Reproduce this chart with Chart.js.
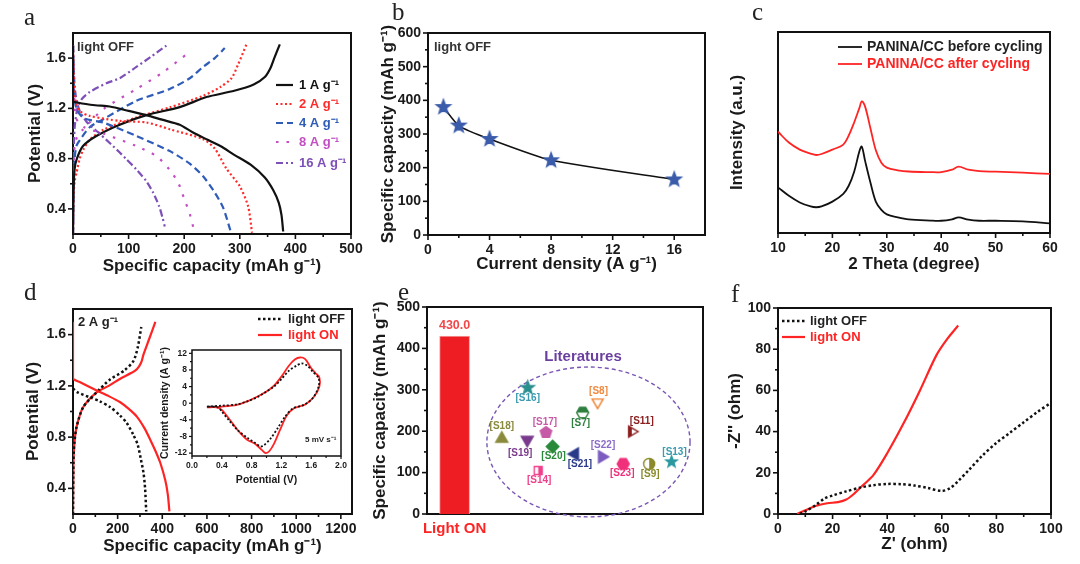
<!DOCTYPE html>
<html>
<head>
<meta charset="utf-8">
<script src="https://cdn.jsdelivr.net/npm/chart.js@4.4.1/dist/chart.umd.min.js"></script>
<style>
  html, body { margin: 0; padding: 0; background: #fff; }
  #wrap { position: relative; width: 1080px; height: 564px; overflow: hidden; }
  #wrap canvas { position: absolute; left: 0; top: 0; width: 1080px; height: 564px; }
  .tag { position: absolute; font-family: 'Liberation Serif', 'DejaVu Serif', serif; font-size: 25px; line-height: 1; color: #222; }
</style>
</head>
<body>
<div id="wrap">
  <canvas id="ca" width="1080" height="564"></canvas>
  <canvas id="cb" width="1080" height="564"></canvas>
  <canvas id="cc" width="1080" height="564"></canvas>
  <canvas id="cd" width="1080" height="564"></canvas>
  <canvas id="cdi" width="1080" height="564"></canvas>
  <canvas id="ce" width="1080" height="564"></canvas>
  <canvas id="cf" width="1080" height="564"></canvas>
  <div class="tag" style="left:24px;top:4px">a</div>
  <div class="tag" style="left:392px;top:-1px">b</div>
  <div class="tag" style="left:752px;top:-1px">c</div>
  <div class="tag" style="left:24px;top:279px">d</div>
  <div class="tag" style="left:398px;top:279px">e</div>
  <div class="tag" style="left:731px;top:281px">f</div>
</div>
<script>
// ----------------------------
// DATA
// ----------------------------
// (a) galvanostatic curves, light OFF: [capacity mAh/g, potential V]
const rateLabels = ['1 A g⁻¹', '2 A g⁻¹', '4 A g⁻¹', '8 A g⁻¹', '16 A g⁻¹'];
const a1Dis = [[0,1.70],[0,1.26],[10,1.245],[40,1.225],[66,1.215],[100,1.18],[132,1.146],[160,1.11],[192,1.07],[215,1.01],[240,0.954],[265,0.9],[290,0.83],[320,0.75],[345,0.65],[360,0.55],[370,0.45],[375,0.35],[378,0.22]];
const a1Chg = [[0,0.2],[1,0.55],[3,0.72],[7,0.8],[18,0.9],[42,0.98],[84,1.07],[132,1.146],[192,1.21],[240,1.29],[290,1.34],[325,1.39],[345,1.45],[355,1.52],[362,1.6],[372,1.71]];
const a2Dis = [[0,1.7],[2,1.4],[5,1.25],[12,1.18],[30,1.14],[84,1.10],[132,1.088],[174,1.034],[234,0.955],[255,0.88],[276,0.72],[300,0.58],[315,0.42],[322,0.21]];
const a2Chg = [[0,0.2],[1,0.5],[3,0.62],[6.5,0.69],[12,0.8],[18.5,0.87],[30,0.95],[54.5,1.03],[114,1.128],[174,1.208],[234,1.3],[265,1.37],[285,1.44],[297,1.55],[312,1.71]];
const a4Dis = [[0,1.7],[2,1.35],[6,1.2],[20,1.12],[54,1.088],[114,0.98],[174,0.86],[210,0.76],[234,0.66],[255,0.53],[270,0.41],[283,0.23]];
const a4Chg = [[0,0.2],[1,0.6],[3,0.8],[6,0.9],[12.6,0.95],[30,1.05],[54.5,1.114],[114,1.26],[174,1.354],[210,1.44],[234,1.53],[255,1.6],[273,1.68]];
const a8Dis = [[0,1.7],[2,1.3],[6,1.12],[20,1.05],[54,1.0],[114,0.9],[150,0.82],[174,0.71],[190,0.6],[200,0.48],[210,0.36],[217,0.24]];
const a8Chg = [[0,0.2],[1,0.7],[3,0.9],[8,0.98],[18.5,1.034],[54.5,1.194],[114,1.354],[162,1.488],[207,1.64]];
const a16Dis = [[0,1.7],[2,1.45],[5,1.3],[12,1.18],[25,1.09],[50,0.99],[72,0.9],[95,0.8],[114,0.714],[132,0.62],[144,0.53],[155,0.42],[161,0.33],[165,0.26]];
const a16Chg = [[0,0.2],[1,0.8],[3,1.05],[8,1.2],[15,1.27],[30,1.33],[60,1.4],[84,1.44],[114,1.53],[140,1.61],[168,1.70]];
const aXTicks = [0, 100, 200, 300, 400, 500];
const aYTicks = [0.4, 0.8, 1.2, 1.6];

// (b) rate capability
const bCurrent = [1, 2, 4, 8, 16];
const bCapacity = [380, 325, 285, 222, 165];
const bXTicks = [0, 4, 8, 12, 16];
const bYTicks = [0, 100, 200, 300, 400, 500, 600];

// (c) XRD, intensity in arbitrary units
const cTheta = [10,12,14,16,17,18,20,22,23,24,25,25.4,26,27,28,29,30,32,34,38,40,42,43.2,45,47,50,55,60];
const cBefore = [22.7,18.5,15.2,13.2,12.8,13.2,15.6,19.5,23.5,30.5,41,43,36,25,15.5,11.5,9.3,7.8,6.8,6.2,6.1,6.8,7.8,6.6,6.1,6.1,5.8,4.8];
const cAfter = [50.4,45,41.5,39.5,38.8,39.3,41.5,44,48.5,55,62.5,65.5,63,52,41,35,32.5,31.2,30.6,30.3,30.3,31.5,33,31.5,30.8,30.5,30,29.4];
const cXTicks = [10, 20, 30, 40, 50, 60];
const cSeries = ['PANINA/CC before cycling', 'PANINA/CC after cycling'];

// (d) 2 A/g curves, light OFF vs ON
const dOffDis = [[0,1.18],[20,1.15],[76,1.11],[120,1.08],[166,1.035],[210,0.97],[241,0.91],[270,0.82],[290,0.74],[305,0.62],[316,0.52],[323,0.4],[328,0.22]];
const dOffChg = [[0,0.2],[2,0.6],[6,0.75],[16,0.88],[46,1.035],[106,1.15],[166,1.25],[230,1.32],[271,1.395],[290,1.5],[306,1.66]];
const dOnDis = [[0,1.7],[0,1.26],[30,1.23],[106,1.164],[160,1.12],[210,1.074],[250,1.02],[286,0.96],[320,0.87],[346,0.78],[370,0.69],[391,0.6],[414,0.46],[425,0.35],[432,0.22]];
const dOnChg = [[0,0.2],[2,0.6],[6,0.75],[16,0.88],[46,1.035],[106,1.15],[160,1.2],[210,1.254],[260,1.3],[286,1.33],[305,1.38],[316,1.446],[340,1.56],[369,1.70]];
const dXTicks = [0, 200, 400, 600, 800, 1000, 1200];
const dYTicks = [0.4, 0.8, 1.2, 1.6];
const dSeries = ['light OFF', 'light ON'];
// (d) inset CV at 5 mV/s: [potential V, current A/g]
const cvOff = [[0.2,-0.8],[0.4,-0.6],[0.6,-0.3],[0.75,0.5],[0.88,1.5],[1.0,2.8],[1.1,4.0],[1.2,5.8],[1.3,7.8],[1.4,9.0],[1.47,9.6],[1.55,9.0],[1.62,7.6],[1.7,6.0],[1.7,4.0],[1.62,1.2],[1.5,-0.4],[1.35,-1.3],[1.25,-3.2],[1.15,-6.0],[1.05,-8.6],[0.96,-10.2],[0.92,-10.4],[0.85,-9.6],[0.75,-8.4],[0.62,-6.6],[0.5,-4.2],[0.4,-2.0],[0.35,-1.0],[0.2,-0.8]];
const cvOn = [[0.2,-1.0],[0.4,-0.8],[0.6,-0.4],[0.75,0.5],[0.88,1.6],[1.0,2.8],[1.1,4.2],[1.2,6.4],[1.3,9.0],[1.38,10.5],[1.45,11.0],[1.52,10.6],[1.6,8.4],[1.66,7.2],[1.71,6.2],[1.71,4.0],[1.64,1.6],[1.52,-0.3],[1.37,-1.2],[1.27,-3.0],[1.18,-6.5],[1.1,-9.8],[1.04,-11.5],[0.99,-12.0],[0.94,-11.3],[0.85,-9.8],[0.74,-8.8],[0.62,-6.6],[0.5,-3.8],[0.4,-1.6],[0.33,-1.0],[0.2,-1.0]];
const cvXTicks = [0, 0.4, 0.8, 1.2, 1.6, 2.0];
const cvYTicks = [-12, -8, -4, 0, 4, 8, 12];

// (e) comparison with literature
const eBarCapacity = 430;
const eRefs = ['[S16]','[S8]','[S7]','[S11]','[S18]','[S17]','[S19]','[S20]','[S21]','[S22]','[S23]','[S9]','[S13]','[S14]'];
const eRefX = [3.65, 6.18, 5.64, 7.42, 2.71, 4.31, 3.63, 4.55, 5.36, 6.34, 7.11, 8.05, 8.86, 4.03];
const eRefY = [305, 270, 245, 199, 182, 197, 179, 163, 145, 138, 121, 121, 126, 105];
const eYTicks = [0, 100, 200, 300, 400, 500];
// literature cloud (data units): centre and half-axes
const eCloud = { x: 5.85, y: 174, rx: 3.68, ry: 181 };

// (f) Nyquist plots: [Z' ohm, -Z'' ohm]
const fOff = [[8,0],[10,1.2],[14,4.5],[17,7.5],[20,9],[25,11],[30,12.8],[35,14],[40,14.6],[45,14.5],[50,13.8],[55,12.6],[60,11.2],[63,12.5],[66,16],[70,21.5],[75,28.5],[80,34.5],[85,39.5],[90,44.5],[95,49.5],[100,54]];
const fOn = [[7,0],[10,1.8],[14,4],[18,5.2],[22,5.8],[25,7],[28,10],[31,13.8],[35,19],[40,29.5],[46,44],[52,60],[58,77],[62,85],[66,91.5]];
const fTicks = [0, 20, 40, 60, 80, 100];

// ----------------------------
// STYLE / SETUP
// ----------------------------
const FONT = "'Liberation Sans', Arial, Helvetica, sans-serif";
Chart.defaults.font.family = FONT;
Chart.defaults.color = '#1a1a1a';
Chart.defaults.animation = false;
Chart.defaults.events = [];
Chart.defaults.plugins.legend.display = false;
Chart.defaults.plugins.tooltip.enabled = false;

const RED = '#ff2424';
const rateColors = ['#111111', '#ff2a2a', '#2e5cb8', '#c34fc3', '#7d50b8'];
const rateDash = [[], [2, 2.5], [7, 4], [2.5, 8], [7, 3, 2, 3]];

// box + outward ticks (major on labels, minor halfway)
const framePlugin = {
  id: 'frame',
  beforeDatasetsDraw(chart, args, o) {
    const { ctx, chartArea: a } = chart;
    const lw = o.lw || 2, maj = o.major || 5, mnr = o.minor || 3;
    ctx.save();
    ctx.strokeStyle = '#111';
    ctx.lineWidth = lw;
    ctx.strokeRect(a.left, a.top, a.right - a.left, a.bottom - a.top);
    ctx.lineWidth = lw * 0.8;
    ['x', 'y'].forEach(id => {
      if ((o.skip || []).includes(id)) return;
      const s = chart.scales[id];
      const vals = s.ticks.map(t => t.value);
      if (vals.length < 2) return;
      const step = vals[1] - vals[0];
      const minors = [vals[0] - step / 2, ...vals.map(v => v + step / 2)]
        .filter(v => v > s.min && v < s.max);
      const mark = (v, len) => {
        const p = s.getPixelForValue(v);
        ctx.beginPath();
        if (id === 'x') { ctx.moveTo(p, a.bottom); ctx.lineTo(p, a.bottom + len); }
        else { ctx.moveTo(a.left, p); ctx.lineTo(a.left - len, p); }
        ctx.stroke();
      };
      vals.forEach(v => mark(v, maj));
      minors.forEach(v => mark(v, mnr));
    });
    ctx.restore();
  }
};

// free text (page coordinates)
const notesPlugin = {
  id: 'notes',
  afterDraw(chart, args, o) {
    const ctx = chart.ctx;
    (o.items || []).forEach(n => {
      ctx.save();
      ctx.font = n.font;
      ctx.fillStyle = n.color || '#222';
      ctx.textAlign = n.align || 'left';
      ctx.textBaseline = 'middle';
      ctx.fillText(n.text, n.x, n.y);
      ctx.restore();
    });
  }
};

// legend rows drawn with the dataset's own line style
const keyPlugin = {
  id: 'key',
  afterDraw(chart, args, o) {
    if (!o.rows) return;
    const ctx = chart.ctx;
    o.rows.forEach((r, i) => {
      const d = chart.data.datasets[r.ds];
      const y = o.y[i];
      ctx.save();
      ctx.strokeStyle = d.borderColor;
      ctx.lineWidth = d.borderWidth;
      ctx.setLineDash(d.borderDash || []);
      ctx.beginPath();
      ctx.moveTo(o.x0, y);
      ctx.lineTo(o.x1, y);
      ctx.stroke();
      ctx.setLineDash([]);
      ctx.font = o.font;
      ctx.fillStyle = r.color;
      ctx.textBaseline = 'middle';
      ctx.fillText(r.text, o.tx, y);
      ctx.restore();
    });
  }
};

// labels attached to points of a dataset
const pointTextPlugin = {
  id: 'pointText',
  afterDatasetsDraw(chart, args, o) {
    const ctx = chart.ctx;
    (o.sets || []).forEach(set => {
      const meta = chart.getDatasetMeta(set.ds);
      set.texts.forEach((t, i) => {
        const el = meta.data[i];
        if (!el) return;
        const [dx, dy] = set.offsets[i];
        ctx.save();
        ctx.font = set.font;
        ctx.fillStyle = set.colors[i];
        ctx.textAlign = 'center';
        ctx.textBaseline = 'middle';
        ctx.fillText(t, el.x + dx, el.y + dy);
        ctx.restore();
      });
    });
  }
};

// dashed ellipse in data units
const cloudPlugin = {
  id: 'cloud',
  beforeDatasetsDraw(chart, args, o) {
    if (!o.shape) return;
    const { ctx, scales: { x, y } } = chart;
    const c = o.shape;
    const cx = x.getPixelForValue(c.x), cy = y.getPixelForValue(c.y);
    const rx = x.getPixelForValue(c.x + c.rx) - cx;
    const ry = cy - y.getPixelForValue(c.y + c.ry);
    ctx.save();
    ctx.strokeStyle = o.color;
    ctx.lineWidth = 1.4;
    ctx.setLineDash([4, 3]);
    ctx.beginPath();
    ctx.ellipse(cx, cy, rx, ry, 0, 0, Math.PI * 2);
    ctx.stroke();
    ctx.restore();
  }
};

Chart.register(framePlugin, notesPlugin, keyPlugin, pointTextPlugin, cloudPlugin);

// marker images
function shapePath(g, shape, r) {
  g.beginPath();
  const poly = (n, rot, rr) => {
    for (let i = 0; i < n; i++) {
      const a = rot + i * 2 * Math.PI / n;
      i ? g.lineTo(Math.cos(a) * rr, Math.sin(a) * rr) : g.moveTo(Math.cos(a) * rr, Math.sin(a) * rr);
    }
    g.closePath();
  };
  switch (shape) {
    case 'circle': g.arc(0, 0, r, 0, Math.PI * 2); break;
    case 'star':
      for (let i = 0; i < 10; i++) {
        const a = -Math.PI / 2 + i * Math.PI / 5, rr = i % 2 ? r * 0.42 : r;
        i ? g.lineTo(Math.cos(a) * rr, Math.sin(a) * rr) : g.moveTo(Math.cos(a) * rr, Math.sin(a) * rr);
      }
      g.closePath();
      break;
    case 'hexagon': poly(6, 0, r); break;
    case 'pentagon': poly(5, -Math.PI / 2, r); break;
    case 'up': poly(3, -Math.PI / 2, r * 1.15); break;
    case 'down': poly(3, Math.PI / 2, r * 1.15); break;
    case 'left': poly(3, Math.PI, r * 1.15); break;
    case 'right': poly(3, 0, r * 1.15); break;
    case 'diamond': poly(4, 0, r * 1.05); break;
    case 'square': g.rect(-r * 0.8, -r * 0.8, r * 1.6, r * 1.6); break;
  }
}
function marker(shape, color, fill, r) {
  const c = document.createElement('canvas');
  const s = Math.ceil(r * 2 + 5);
  c.width = c.height = s;
  const g = c.getContext('2d');
  g.translate(s / 2, s / 2);
  shapePath(g, shape, r);
  if (fill === 'full') {
    g.fillStyle = color; g.fill();
  } else {
    g.fillStyle = '#fff'; g.fill();
    if (fill !== 'open') {
      g.save(); g.clip(); g.fillStyle = color;
      if (fill === 'top') g.fillRect(-s, -s, 2 * s, s);
      if (fill === 'left') g.fillRect(-s, -s, s, 2 * s);
      if (fill === 'right') g.fillRect(0, -s, s, 2 * s);
      g.restore();
      shapePath(g, shape, r);
    }
  }
  g.strokeStyle = color; g.lineWidth = 1.4; g.stroke();
  return c;
}

const line = (pairs, color, lw, dash, extra) => Object.assign({
  data: pairs.map(([x, y]) => ({ x, y })),
  showLine: true, borderColor: color, backgroundColor: color, borderWidth: lw,
  borderDash: dash || [], pointRadius: 0, tension: 0.3, borderCapStyle: 'butt'
}, extra || {});

function axis(ax, horiz, g) {
  const [pl, pt, pr, pb] = g.plot;
  return {
    type: 'linear', min: ax.min, max: ax.max, offset: false,
    grid: { display: false, drawTicks: false },
    border: { display: false },
    afterBuildTicks: s => { s.ticks = ax.ticks.map(v => ({ value: v })); },
    afterFit: s => { if (horiz) s.height = g.B - pb; else s.width = pl - g.L; },
    ticks: {
      display: ax.show !== false, padding: ax.lpad, autoSkip: false, maxRotation: 0,
      font: { size: ax.fs || 14, weight: 'bold' }, color: ax.color || '#1a1a1a',
      callback: ax.fmt || (v => v)
    },
    title: {
      display: !!ax.title, text: ax.title, color: '#1a1a1a',
      font: { size: ax.tfs || 17, weight: 'bold' },
      padding: horiz ? { top: 0, bottom: ax.tpad } : { top: ax.tpad, bottom: 0 }
    }
  };
}

function makePanel(id, g, datasets, plugins) {
  const [pl, pt, pr, pb] = g.plot;
  return new Chart(document.getElementById(id), {
    type: 'scatter',
    data: { datasets },
    options: {
      responsive: false,
      devicePixelRatio: 1,
      layout: { padding: { left: g.L, top: pt, right: 1080 - pr, bottom: 564 - g.B } },
      scales: { x: axis(g.x, true, g), y: axis(g.y, false, g) },
      plugins: Object.assign({ legend: { display: false } }, plugins)
    }
  });
}

const B14 = 'bold 14px ' + FONT;
const B13 = 'bold 13px ' + FONT;

// ----------------------------
// (a)
// ----------------------------
const aDis = [a1Dis, a2Dis, a4Dis, a8Dis, a16Dis];
const aChg = [a1Chg, a2Chg, a4Chg, a8Chg, a16Chg];
const aSets = [];
aDis.forEach((d, i) => aSets.push(line(d, rateColors[i], 2.2, rateDash[i], { tension: 0.25 })));
aChg.forEach((d, i) => aSets.push(line(d, rateColors[i], 2.2, rateDash[i], { tension: 0.25 })));
makePanel('ca', {
  L: 0, B: 280, plot: [73, 33, 351, 234],
  x: { min: 0, max: 500, ticks: aXTicks, lpad: 7, title: 'Specific capacity (mAh g⁻¹)', tpad: 3 },
  y: { min: 0.2, max: 1.8, ticks: aYTicks, lpad: 7, title: 'Potential (V)', tpad: 25 }
}, aSets, {
  frame: {},
  key: {
    x0: 276, x1: 293, tx: 299, font: B13, y: [85, 104, 123, 142, 163],
    rows: rateLabels.map((t, i) => ({ ds: i, text: t, color: rateColors[i] }))
  },
  notes: { items: [{ text: 'light OFF', x: 77, y: 47, font: B13, color: '#333' }] }
});

// ----------------------------
// (b)
// ----------------------------
const blueStar = marker('star', '#3b5caa', 'full', 7.5);
makePanel('cb', {
  L: 360, B: 280, plot: [428, 33, 705, 235],
  x: { min: 0, max: 18, ticks: bXTicks, lpad: 7, title: 'Current density (A g⁻¹)', tpad: 5 },
  y: { min: 0, max: 600, ticks: bYTicks, lpad: 7, title: 'Specific capacity (mAh g⁻¹)', tpad: 18 }
}, [line(bCurrent.map((x, i) => [x, bCapacity[i]]), '#111', 1.5, [], {
  tension: 0.2, pointRadius: 7, pointStyle: blueStar
})], {
  frame: {},
  notes: { items: [{ text: 'light OFF', x: 434, y: 47, font: B13, color: '#333' }] }
});

// ----------------------------
// (c)
// ----------------------------
makePanel('cc', {
  L: 720, B: 280, plot: [778, 32, 1050, 233],
  x: { min: 10, max: 60, ticks: cXTicks, lpad: 7, title: '2 Theta (degree)', tpad: 5 },
  y: { min: 0, max: 100, ticks: [], show: false, title: 'Intensity (a.u.)', tpad: 7 }
}, [
  line(cTheta.map((x, i) => [x, cBefore[i]]), '#111', 1.8, [], { tension: 0.35 }),
  line(cTheta.map((x, i) => [x, cAfter[i]]), RED, 1.8, [], { tension: 0.35 })
], {
  frame: { skip: ['y'] },
  key: {
    x0: 838, x1: 862, tx: 867, font: B14, y: [47, 64],
    rows: [{ ds: 0, text: cSeries[0], color: '#222' }, { ds: 1, text: cSeries[1], color: RED }]
  }
});

// ----------------------------
// (d) + inset
// ----------------------------
makePanel('cd', {
  L: 0, B: 564, plot: [73, 309, 352, 514],
  x: { min: 0, max: 1250, ticks: dXTicks, lpad: 7, title: 'Specific capacity (mAh g⁻¹)', tpad: 7 },
  y: { min: 0.2, max: 1.8, ticks: dYTicks, lpad: 7, title: 'Potential (V)', tpad: 23 }
}, [
  line(dOffDis, '#111', 2.5, [2.5, 2.5], { tension: 0.25 }),
  line(dOnDis, RED, 2.2, [], { tension: 0.25 }),
  line(dOffChg, '#111', 2.5, [2.5, 2.5], { tension: 0.25 }),
  line(dOnChg, RED, 2.2, [], { tension: 0.25 })
], {
  frame: {},
  key: {
    x0: 258, x1: 282, tx: 288, font: B13, y: [319, 335],
    rows: [{ ds: 0, text: dSeries[0], color: '#222' }, { ds: 1, text: dSeries[1], color: RED }]
  },
  notes: { items: [{ text: '2 A g⁻¹', x: 78, y: 322, font: B13, color: '#222' }] }
});

makePanel('cdi', {
  L: 150, B: 492, plot: [192, 350, 341, 456],
  x: { min: 0, max: 2, ticks: cvXTicks, lpad: 5, fs: 8.5, fmt: v => v.toFixed(1), title: 'Potential (V)', tfs: 10.5, tpad: 6 },
  y: { min: -12.7, max: 12.8, ticks: cvYTicks, lpad: 5, fs: 8.5, title: 'Current density (A g⁻¹)', tfs: 10.5, tpad: 9 }
}, [
  line(cvOff, '#111', 1.8, [2, 2], { tension: 0.3 }),
  line(cvOn, RED, 1.8, [], { tension: 0.3 })
], {
  frame: { lw: 1.5, major: 3, minor: 2 },
  notes: { items: [{ text: '5 mV s⁻¹', x: 305, y: 440, font: 'bold 8px ' + FONT, color: '#222' }] }
});

// ----------------------------
// (e)
// ----------------------------
const eMarks = [
  marker('star', '#2b8f8f', 'full', 7), marker('down', '#f07f2a', 'open', 5.5),
  marker('hexagon', '#2f7f3f', 'top', 6), marker('right', '#8b1f1f', 'left', 5.5),
  marker('up', '#8a8a3c', 'full', 6), marker('pentagon', '#c65aa6', 'full', 6),
  marker('down', '#7a3a8c', 'full', 6), marker('diamond', '#2a8a3a', 'full', 6),
  marker('left', '#2a3a8a', 'full', 6), marker('right', '#7c5cc0', 'full', 6),
  marker('hexagon', '#f0307a', 'full', 6), marker('circle', '#8a8a2a', 'right', 5.5),
  marker('star', '#2a9aa0', 'full', 6), marker('square', '#f0408a', 'right', 5)
];
const eTagColors = ['#3a9aae', '#f08a40', '#2f7f3f', '#8b2020', '#8a8a3c', '#c65aa6', '#7a3a8c',
  '#2a8a3a', '#2a3a8a', '#8a6cc8', '#f0307a', '#8a8a2a', '#3a9aae', '#f0408a'];
const eTagOffsets = [[0, 11], [1, -11], [-2, 11], [10, -10], [0, -12], [-1, -10], [-7, 13],
  [1, 10], [5, 10], [1, -12], [-1, 9], [1, 10], [3, -10], [1, 10]];

makePanel('ce', {
  L: 360, B: 564, plot: [427, 307, 703, 514],
  x: { min: 0, max: 10, ticks: [1], lpad: 6, fs: 15, color: RED, fmt: () => 'Light ON' },
  y: { min: 0, max: 500, ticks: eYTicks, lpad: 7, title: 'Specific capacity (mAh g⁻¹)', tpad: 10 }
}, [
  { type: 'bar', data: [{ x: 1, y: eBarCapacity }], backgroundColor: '#ee1d23', borderColor: '#f7a0a0',
    borderWidth: 1, barThickness: 30 },
  { data: eRefX.map((x, i) => ({ x, y: eRefY[i] })), pointStyle: eMarks, pointRadius: 6, showLine: false }
], {
  frame: { skip: ['x'] },
  cloud: { shape: eCloud, color: '#7a55b5' },
  pointText: {
    sets: [
      { ds: 0, texts: [eBarCapacity.toFixed(1)], colors: ['#f04848'], offsets: [[0, -10]], font: 'bold 12.5px ' + FONT },
      { ds: 1, texts: eRefs, colors: eTagColors, offsets: eTagOffsets, font: 'bold 10px ' + FONT }
    ]
  },
  notes: { items: [{ text: 'Literatures', x: 583, y: 357, font: 'bold 15px ' + FONT, color: '#6b3fa0', align: 'center' }] }
});

// ----------------------------
// (f)
// ----------------------------
makePanel('cf', {
  L: 720, B: 564, plot: [778, 308, 1051, 514],
  x: { min: 0, max: 100, ticks: fTicks, lpad: 7, title: "Z' (ohm)", tpad: 9 },
  y: { min: 0, max: 100, ticks: fTicks, lpad: 7, title: "-Z'' (ohm)", tpad: 5 }
}, [
  line(fOff, '#111', 2.5, [2.5, 2.5], { tension: 0.3 }),
  line(fOn, RED, 2.2, [], { tension: 0.3 })
], {
  frame: {},
  key: {
    x0: 782, x1: 805, tx: 810, font: B13, y: [321, 337],
    rows: [{ ds: 0, text: dSeries[0], color: '#222' }, { ds: 1, text: dSeries[1], color: RED }]
  }
});
</script>
</body>
</html>
